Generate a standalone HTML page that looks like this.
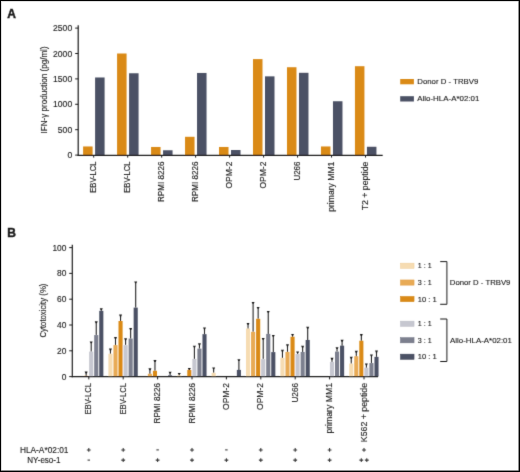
<!DOCTYPE html>
<html><head><meta charset="utf-8"><style>
html,body{margin:0;padding:0;background:#fff;}
svg{display:block;font-family:"Liberation Sans", sans-serif;will-change:transform;}
text{fill:#1a1a1a;stroke:#1a1a1a;stroke-width:0.12px;}
</style></head><body>
<svg width="520" height="472" viewBox="0 0 520 472">
<defs><filter id="sb" x="0" y="0" width="100%" height="100%" filterUnits="userSpaceOnUse"><feConvolveMatrix order="3" kernelMatrix="0.01 0.08 0.01 0.08 0.64 0.08 0.01 0.08 0.01" divisor="1" edgeMode="duplicate" preserveAlpha="false"/></filter></defs>
<rect x="0" y="0" width="520" height="472" fill="#fff"/>
<g filter="url(#sb)">
<text x="7.2" y="17.5" font-size="12" font-weight="bold" style="stroke-width:0.45px">A</text>
<text x="7.2" y="237.3" font-size="12" font-weight="bold" style="stroke-width:0.45px">B</text>
<line x1="78.2" y1="25.2" x2="78.2" y2="155.7" stroke="#1c1c1c" stroke-width="1.2"/>
<line x1="75.2" y1="155.10" x2="78.2" y2="155.10" stroke="#1c1c1c" stroke-width="1"/>
<text x="72.2" y="158.20" font-size="8.6" text-anchor="end">0</text>
<line x1="75.2" y1="129.70" x2="78.2" y2="129.70" stroke="#1c1c1c" stroke-width="1"/>
<text x="72.2" y="132.80" font-size="8.6" text-anchor="end">500</text>
<line x1="75.2" y1="104.30" x2="78.2" y2="104.30" stroke="#1c1c1c" stroke-width="1"/>
<text x="72.2" y="107.40" font-size="8.6" text-anchor="end">1000</text>
<line x1="75.2" y1="78.90" x2="78.2" y2="78.90" stroke="#1c1c1c" stroke-width="1"/>
<text x="72.2" y="82.00" font-size="8.6" text-anchor="end">1500</text>
<line x1="75.2" y1="53.50" x2="78.2" y2="53.50" stroke="#1c1c1c" stroke-width="1"/>
<text x="72.2" y="56.60" font-size="8.6" text-anchor="end">2000</text>
<line x1="75.2" y1="28.10" x2="78.2" y2="28.10" stroke="#1c1c1c" stroke-width="1"/>
<text x="72.2" y="31.20" font-size="8.6" text-anchor="end">2500</text>
<rect x="83.10" y="146.46" width="9.5" height="8.64" fill="#DA8A16"/>
<rect x="95.10" y="77.48" width="9.5" height="77.62" fill="#4B5165"/>
<line x1="93.70" y1="155.1" x2="93.70" y2="157.6" stroke="#1c1c1c" stroke-width="1"/>
<rect x="117.08" y="53.50" width="9.5" height="101.60" fill="#DA8A16"/>
<rect x="129.08" y="73.26" width="9.5" height="81.84" fill="#4B5165"/>
<line x1="127.68" y1="155.1" x2="127.68" y2="157.6" stroke="#1c1c1c" stroke-width="1"/>
<rect x="151.06" y="146.97" width="9.5" height="8.13" fill="#DA8A16"/>
<rect x="163.06" y="150.27" width="9.5" height="4.83" fill="#4B5165"/>
<line x1="161.66" y1="155.1" x2="161.66" y2="157.6" stroke="#1c1c1c" stroke-width="1"/>
<rect x="185.04" y="136.81" width="9.5" height="18.29" fill="#DA8A16"/>
<rect x="197.04" y="72.96" width="9.5" height="82.14" fill="#4B5165"/>
<line x1="195.64" y1="155.1" x2="195.64" y2="157.6" stroke="#1c1c1c" stroke-width="1"/>
<rect x="219.02" y="146.97" width="9.5" height="8.13" fill="#DA8A16"/>
<rect x="231.02" y="150.02" width="9.5" height="5.08" fill="#4B5165"/>
<line x1="229.62" y1="155.1" x2="229.62" y2="157.6" stroke="#1c1c1c" stroke-width="1"/>
<rect x="253.00" y="59.09" width="9.5" height="96.01" fill="#DA8A16"/>
<rect x="265.00" y="76.36" width="9.5" height="78.74" fill="#4B5165"/>
<line x1="263.60" y1="155.1" x2="263.60" y2="157.6" stroke="#1c1c1c" stroke-width="1"/>
<rect x="286.98" y="67.22" width="9.5" height="87.88" fill="#DA8A16"/>
<rect x="298.98" y="72.80" width="9.5" height="82.30" fill="#4B5165"/>
<line x1="297.58" y1="155.1" x2="297.58" y2="157.6" stroke="#1c1c1c" stroke-width="1"/>
<rect x="320.96" y="146.46" width="9.5" height="8.64" fill="#DA8A16"/>
<rect x="332.96" y="101.25" width="9.5" height="53.85" fill="#4B5165"/>
<line x1="331.56" y1="155.1" x2="331.56" y2="157.6" stroke="#1c1c1c" stroke-width="1"/>
<rect x="354.94" y="66.20" width="9.5" height="88.90" fill="#DA8A16"/>
<rect x="366.94" y="146.77" width="9.5" height="8.33" fill="#4B5165"/>
<line x1="365.54" y1="155.1" x2="365.54" y2="157.6" stroke="#1c1c1c" stroke-width="1"/>
<line x1="77.60000000000001" y1="155.4" x2="382.7" y2="155.4" stroke="#1c1c1c" stroke-width="1.2"/>
<text transform="translate(96.40,161.6) rotate(-90)" font-size="8.8" text-anchor="end" textLength="31.1" lengthAdjust="spacingAndGlyphs">EBV-LCL</text>
<text transform="translate(130.38,161.6) rotate(-90)" font-size="8.8" text-anchor="end" textLength="31.1" lengthAdjust="spacingAndGlyphs">EBV-LCL</text>
<text transform="translate(164.36,161.6) rotate(-90)" font-size="8.8" text-anchor="end" textLength="40.4" lengthAdjust="spacingAndGlyphs">RPMI 8226</text>
<text transform="translate(198.34,161.6) rotate(-90)" font-size="8.8" text-anchor="end" textLength="40.4" lengthAdjust="spacingAndGlyphs">RPMI 8226</text>
<text transform="translate(232.32,161.6) rotate(-90)" font-size="8.8" text-anchor="end" textLength="27" lengthAdjust="spacingAndGlyphs">OPM-2</text>
<text transform="translate(266.30,161.6) rotate(-90)" font-size="8.8" text-anchor="end" textLength="27" lengthAdjust="spacingAndGlyphs">OPM-2</text>
<text transform="translate(300.28,161.6) rotate(-90)" font-size="8.8" text-anchor="end" textLength="19" lengthAdjust="spacingAndGlyphs">U266</text>
<text transform="translate(334.26,161.6) rotate(-90)" font-size="8.8" text-anchor="end" textLength="50.2" lengthAdjust="spacingAndGlyphs">primary MM1</text>
<text transform="translate(368.24,161.6) rotate(-90)" font-size="8.8" text-anchor="end" textLength="48.7" lengthAdjust="spacingAndGlyphs">T2 + peptide</text>
<text transform="translate(47.2,89.9) rotate(-90)" font-size="9" text-anchor="middle" textLength="87" lengthAdjust="spacingAndGlyphs">IFN-γ production (pg/ml)</text>
<rect x="400.2" y="79" width="13.7" height="5.3" fill="#DA8A16"/>
<text x="417.3" y="84.3" font-size="7.8" textLength="61" lengthAdjust="spacingAndGlyphs">Donor D - TRBV9</text>
<rect x="400.2" y="96.2" width="13.7" height="5.3" fill="#4B5165"/>
<text x="417.3" y="101.3" font-size="7.8" textLength="62" lengthAdjust="spacingAndGlyphs">Allo-HLA-A*02:01</text>
<line x1="72.3" y1="244.7" x2="72.3" y2="377.20000000000005" stroke="#1c1c1c" stroke-width="1.2"/>
<line x1="69.2" y1="376.60" x2="72.3" y2="376.60" stroke="#1c1c1c" stroke-width="1"/>
<text x="66.4" y="379.60" font-size="8.4" text-anchor="end">0</text>
<line x1="69.2" y1="350.80" x2="72.3" y2="350.80" stroke="#1c1c1c" stroke-width="1"/>
<text x="66.4" y="353.80" font-size="8.4" text-anchor="end">20</text>
<line x1="69.2" y1="325.00" x2="72.3" y2="325.00" stroke="#1c1c1c" stroke-width="1"/>
<text x="66.4" y="328.00" font-size="8.4" text-anchor="end">40</text>
<line x1="69.2" y1="299.20" x2="72.3" y2="299.20" stroke="#1c1c1c" stroke-width="1"/>
<text x="66.4" y="302.20" font-size="8.4" text-anchor="end">60</text>
<line x1="69.2" y1="273.40" x2="72.3" y2="273.40" stroke="#1c1c1c" stroke-width="1"/>
<text x="66.4" y="276.40" font-size="8.4" text-anchor="end">80</text>
<line x1="69.2" y1="247.60" x2="72.3" y2="247.60" stroke="#1c1c1c" stroke-width="1"/>
<text x="66.4" y="250.60" font-size="8.4" text-anchor="end">100</text>
<rect x="84.10" y="375.83" width="4.1" height="0.77" fill="#DA8A16"/>
<line x1="86.15" y1="375.83" x2="86.15" y2="372.59" stroke="#262626" stroke-width="1.1"/>
<path d="M84.65 371.59 H87.65 L86.75 373.49 H85.55 Z" fill="#1a1a1a"/>
<rect x="89.15" y="351.57" width="4.1" height="25.03" fill="#C6C7D0"/>
<line x1="91.20" y1="351.57" x2="91.20" y2="342.40" stroke="#262626" stroke-width="1.1"/>
<path d="M89.70 341.40 H92.70 L91.80 343.30 H90.60 Z" fill="#1a1a1a"/>
<rect x="94.20" y="335.06" width="4.1" height="41.54" fill="#7B7F8E"/>
<line x1="96.25" y1="335.06" x2="96.25" y2="322.28" stroke="#262626" stroke-width="1.1"/>
<path d="M94.75 321.28 H97.75 L96.85 323.18 H95.65 Z" fill="#1a1a1a"/>
<rect x="99.25" y="310.81" width="4.1" height="65.79" fill="#4B5165"/>
<line x1="101.30" y1="310.81" x2="101.30" y2="309.25" stroke="#262626" stroke-width="1.1"/>
<path d="M99.80 308.25 H102.80 L101.90 310.15 H100.70 Z" fill="#1a1a1a"/>
<line x1="88.80" y1="376.6" x2="88.80" y2="379.4" stroke="#1c1c1c" stroke-width="1"/>
<rect x="108.40" y="353.77" width="4.1" height="22.83" fill="#F6DCB2"/>
<line x1="110.45" y1="353.77" x2="110.45" y2="349.62" stroke="#262626" stroke-width="1.1"/>
<path d="M108.95 348.62 H111.95 L111.05 350.52 H109.85 Z" fill="#1a1a1a"/>
<rect x="113.45" y="345.12" width="4.1" height="31.48" fill="#E8AA55"/>
<line x1="115.50" y1="345.12" x2="115.50" y2="338.01" stroke="#262626" stroke-width="1.1"/>
<path d="M114.00 337.01 H117.00 L116.10 338.91 H114.90 Z" fill="#1a1a1a"/>
<rect x="118.50" y="321.00" width="4.1" height="55.60" fill="#DA8A16"/>
<line x1="120.55" y1="321.00" x2="120.55" y2="315.57" stroke="#262626" stroke-width="1.1"/>
<path d="M119.05 314.57 H122.05 L121.15 316.47 H119.95 Z" fill="#1a1a1a"/>
<rect x="123.55" y="345.12" width="4.1" height="31.48" fill="#C6C7D0"/>
<line x1="125.60" y1="345.12" x2="125.60" y2="339.30" stroke="#262626" stroke-width="1.1"/>
<path d="M124.10 338.30 H127.10 L126.20 340.20 H125.00 Z" fill="#1a1a1a"/>
<rect x="128.60" y="338.55" width="4.1" height="38.05" fill="#7B7F8E"/>
<line x1="130.65" y1="338.55" x2="130.65" y2="329.11" stroke="#262626" stroke-width="1.1"/>
<path d="M129.15 328.11 H132.15 L131.25 330.01 H130.05 Z" fill="#1a1a1a"/>
<rect x="133.65" y="307.59" width="4.1" height="69.02" fill="#4B5165"/>
<line x1="135.70" y1="307.59" x2="135.70" y2="282.41" stroke="#262626" stroke-width="1.1"/>
<path d="M134.20 281.41 H137.20 L136.30 283.31 H135.10 Z" fill="#1a1a1a"/>
<line x1="123.20" y1="376.6" x2="123.20" y2="379.4" stroke="#1c1c1c" stroke-width="1"/>
<rect x="147.85" y="373.76" width="4.1" height="2.84" fill="#E8AA55"/>
<line x1="149.90" y1="373.76" x2="149.90" y2="369.23" stroke="#262626" stroke-width="1.1"/>
<path d="M148.40 368.23 H151.40 L150.50 370.13 H149.30 Z" fill="#1a1a1a"/>
<rect x="152.90" y="370.80" width="4.1" height="5.80" fill="#DA8A16"/>
<line x1="154.95" y1="370.80" x2="154.95" y2="360.98" stroke="#262626" stroke-width="1.1"/>
<path d="M153.45 359.98 H156.45 L155.55 361.88 H154.35 Z" fill="#1a1a1a"/>
<rect x="168.05" y="375.31" width="4.1" height="1.29" fill="#4B5165"/>
<line x1="170.10" y1="375.31" x2="170.10" y2="372.71" stroke="#262626" stroke-width="1.1"/>
<path d="M168.60 371.71 H171.60 L170.70 373.61 H169.50 Z" fill="#1a1a1a"/>
<line x1="157.60" y1="376.6" x2="157.60" y2="379.4" stroke="#1c1c1c" stroke-width="1"/>
<rect x="177.20" y="375.31" width="4.1" height="1.29" fill="#F6DCB2"/>
<line x1="179.25" y1="375.31" x2="179.25" y2="373.88" stroke="#262626" stroke-width="1.1"/>
<path d="M177.75 372.88 H180.75 L179.85 374.77 H178.65 Z" fill="#1a1a1a"/>
<rect x="187.30" y="370.02" width="4.1" height="6.58" fill="#DA8A16"/>
<line x1="189.35" y1="370.02" x2="189.35" y2="369.10" stroke="#262626" stroke-width="1.1"/>
<path d="M187.85 368.10 H190.85 L189.95 370.00 H188.75 Z" fill="#1a1a1a"/>
<rect x="192.35" y="358.93" width="4.1" height="17.67" fill="#C6C7D0"/>
<line x1="194.40" y1="358.93" x2="194.40" y2="346.66" stroke="#262626" stroke-width="1.1"/>
<path d="M192.90 345.66 H195.90 L195.00 347.56 H193.80 Z" fill="#1a1a1a"/>
<rect x="197.40" y="348.61" width="4.1" height="27.99" fill="#7B7F8E"/>
<line x1="199.45" y1="348.61" x2="199.45" y2="344.33" stroke="#262626" stroke-width="1.1"/>
<path d="M197.95 343.33 H200.95 L200.05 345.23 H198.85 Z" fill="#1a1a1a"/>
<rect x="202.45" y="334.16" width="4.1" height="42.44" fill="#4B5165"/>
<line x1="204.50" y1="334.16" x2="204.50" y2="328.47" stroke="#262626" stroke-width="1.1"/>
<path d="M203.00 327.47 H206.00 L205.10 329.37 H203.90 Z" fill="#1a1a1a"/>
<line x1="192.00" y1="376.6" x2="192.00" y2="379.4" stroke="#1c1c1c" stroke-width="1"/>
<rect x="211.60" y="372.86" width="4.1" height="3.74" fill="#F6DCB2"/>
<line x1="213.65" y1="372.86" x2="213.65" y2="368.46" stroke="#262626" stroke-width="1.1"/>
<path d="M212.15 367.46 H215.15 L214.25 369.36 H213.05 Z" fill="#1a1a1a"/>
<rect x="236.85" y="369.89" width="4.1" height="6.71" fill="#4B5165"/>
<line x1="238.90" y1="369.89" x2="238.90" y2="360.20" stroke="#262626" stroke-width="1.1"/>
<path d="M237.40 359.20 H240.40 L239.50 361.10 H238.30 Z" fill="#1a1a1a"/>
<line x1="226.40" y1="376.6" x2="226.40" y2="379.4" stroke="#1c1c1c" stroke-width="1"/>
<rect x="246.00" y="328.48" width="4.1" height="48.12" fill="#F6DCB2"/>
<line x1="248.05" y1="328.48" x2="248.05" y2="323.95" stroke="#262626" stroke-width="1.1"/>
<path d="M246.55 322.95 H249.55 L248.65 324.85 H247.45 Z" fill="#1a1a1a"/>
<rect x="251.05" y="331.84" width="4.1" height="44.76" fill="#E8AA55"/>
<line x1="253.10" y1="331.84" x2="253.10" y2="302.93" stroke="#262626" stroke-width="1.1"/>
<path d="M251.60 301.93 H254.60 L253.70 303.82 H252.50 Z" fill="#1a1a1a"/>
<rect x="256.10" y="318.81" width="4.1" height="57.79" fill="#DA8A16"/>
<line x1="258.15" y1="318.81" x2="258.15" y2="307.96" stroke="#262626" stroke-width="1.1"/>
<path d="M256.65 306.96 H259.65 L258.75 308.86 H257.55 Z" fill="#1a1a1a"/>
<rect x="261.15" y="359.06" width="4.1" height="17.54" fill="#C6C7D0"/>
<line x1="263.20" y1="359.06" x2="263.20" y2="338.92" stroke="#262626" stroke-width="1.1"/>
<path d="M261.70 337.92 H264.70 L263.80 339.82 H262.60 Z" fill="#1a1a1a"/>
<rect x="266.20" y="333.90" width="4.1" height="42.70" fill="#7B7F8E"/>
<line x1="268.25" y1="333.90" x2="268.25" y2="311.96" stroke="#262626" stroke-width="1.1"/>
<path d="M266.75 310.96 H269.75 L268.85 312.86 H267.65 Z" fill="#1a1a1a"/>
<rect x="271.25" y="352.09" width="4.1" height="24.51" fill="#4B5165"/>
<line x1="273.30" y1="352.09" x2="273.30" y2="335.95" stroke="#262626" stroke-width="1.1"/>
<path d="M271.80 334.95 H274.80 L273.90 336.85 H272.70 Z" fill="#1a1a1a"/>
<line x1="260.80" y1="376.6" x2="260.80" y2="379.4" stroke="#1c1c1c" stroke-width="1"/>
<rect x="280.40" y="357.90" width="4.1" height="18.71" fill="#F6DCB2"/>
<line x1="282.45" y1="357.90" x2="282.45" y2="350.78" stroke="#262626" stroke-width="1.1"/>
<path d="M280.95 349.78 H283.95 L283.05 351.68 H281.85 Z" fill="#1a1a1a"/>
<rect x="285.45" y="351.96" width="4.1" height="24.64" fill="#E8AA55"/>
<line x1="287.50" y1="351.96" x2="287.50" y2="345.37" stroke="#262626" stroke-width="1.1"/>
<path d="M286.00 344.37 H289.00 L288.10 346.27 H286.90 Z" fill="#1a1a1a"/>
<rect x="290.50" y="336.74" width="4.1" height="39.86" fill="#DA8A16"/>
<line x1="292.55" y1="336.74" x2="292.55" y2="334.92" stroke="#262626" stroke-width="1.1"/>
<path d="M291.05 333.92 H294.05 L293.15 335.82 H291.95 Z" fill="#1a1a1a"/>
<rect x="295.55" y="354.03" width="4.1" height="22.57" fill="#C6C7D0"/>
<line x1="297.60" y1="354.03" x2="297.60" y2="352.46" stroke="#262626" stroke-width="1.1"/>
<path d="M296.10 351.46 H299.10 L298.20 353.36 H297.00 Z" fill="#1a1a1a"/>
<rect x="300.60" y="351.96" width="4.1" height="24.64" fill="#7B7F8E"/>
<line x1="302.65" y1="351.96" x2="302.65" y2="346.79" stroke="#262626" stroke-width="1.1"/>
<path d="M301.15 345.79 H304.15 L303.25 347.69 H302.05 Z" fill="#1a1a1a"/>
<rect x="305.65" y="339.96" width="4.1" height="36.64" fill="#4B5165"/>
<line x1="307.70" y1="339.96" x2="307.70" y2="327.82" stroke="#262626" stroke-width="1.1"/>
<path d="M306.20 326.82 H309.20 L308.30 328.72 H307.10 Z" fill="#1a1a1a"/>
<line x1="295.20" y1="376.6" x2="295.20" y2="379.4" stroke="#1c1c1c" stroke-width="1"/>
<rect x="329.95" y="361.89" width="4.1" height="14.71" fill="#C6C7D0"/>
<line x1="332.00" y1="361.89" x2="332.00" y2="358.78" stroke="#262626" stroke-width="1.1"/>
<path d="M330.50 357.78 H333.50 L332.60 359.68 H331.40 Z" fill="#1a1a1a"/>
<rect x="335.00" y="351.57" width="4.1" height="25.03" fill="#7B7F8E"/>
<line x1="337.05" y1="351.57" x2="337.05" y2="348.20" stroke="#262626" stroke-width="1.1"/>
<path d="M335.55 347.20 H338.55 L337.65 349.10 H336.45 Z" fill="#1a1a1a"/>
<rect x="340.05" y="345.64" width="4.1" height="30.96" fill="#4B5165"/>
<line x1="342.10" y1="345.64" x2="342.10" y2="340.85" stroke="#262626" stroke-width="1.1"/>
<path d="M340.60 339.85 H343.60 L342.70 341.75 H341.50 Z" fill="#1a1a1a"/>
<line x1="329.60" y1="376.6" x2="329.60" y2="379.4" stroke="#1c1c1c" stroke-width="1"/>
<rect x="349.20" y="363.57" width="4.1" height="13.03" fill="#F6DCB2"/>
<line x1="351.25" y1="363.57" x2="351.25" y2="357.75" stroke="#262626" stroke-width="1.1"/>
<path d="M349.75 356.75 H352.75 L351.85 358.65 H350.65 Z" fill="#1a1a1a"/>
<rect x="354.25" y="356.22" width="4.1" height="20.38" fill="#E8AA55"/>
<line x1="356.30" y1="356.22" x2="356.30" y2="351.82" stroke="#262626" stroke-width="1.1"/>
<path d="M354.80 350.82 H357.80 L356.90 352.72 H355.70 Z" fill="#1a1a1a"/>
<rect x="359.30" y="340.74" width="4.1" height="35.86" fill="#DA8A16"/>
<line x1="361.35" y1="340.74" x2="361.35" y2="335.05" stroke="#262626" stroke-width="1.1"/>
<path d="M359.85 334.05 H362.85 L361.95 335.95 H360.75 Z" fill="#1a1a1a"/>
<rect x="364.35" y="367.70" width="4.1" height="8.90" fill="#C6C7D0"/>
<line x1="366.40" y1="367.70" x2="366.40" y2="364.46" stroke="#262626" stroke-width="1.1"/>
<path d="M364.90 363.46 H367.90 L367.00 365.36 H365.80 Z" fill="#1a1a1a"/>
<rect x="369.40" y="363.06" width="4.1" height="13.54" fill="#7B7F8E"/>
<line x1="371.45" y1="363.06" x2="371.45" y2="355.43" stroke="#262626" stroke-width="1.1"/>
<path d="M369.95 354.43 H372.95 L372.05 356.33 H370.85 Z" fill="#1a1a1a"/>
<rect x="374.45" y="356.86" width="4.1" height="19.74" fill="#4B5165"/>
<line x1="376.50" y1="356.86" x2="376.50" y2="351.56" stroke="#262626" stroke-width="1.1"/>
<path d="M375.00 350.56 H378.00 L377.10 352.46 H375.90 Z" fill="#1a1a1a"/>
<line x1="364.00" y1="376.6" x2="364.00" y2="379.4" stroke="#1c1c1c" stroke-width="1"/>
<line x1="71.7" y1="376.6" x2="378" y2="376.6" stroke="#1c1c1c" stroke-width="1.2"/>
<text transform="translate(91.40,383.0) rotate(-90)" font-size="8.8" text-anchor="end" textLength="31.6" lengthAdjust="spacingAndGlyphs">EBV-LCL</text>
<text transform="translate(125.80,383.0) rotate(-90)" font-size="8.8" text-anchor="end" textLength="31.6" lengthAdjust="spacingAndGlyphs">EBV-LCL</text>
<text transform="translate(160.20,383.0) rotate(-90)" font-size="8.8" text-anchor="end" textLength="40.4" lengthAdjust="spacingAndGlyphs">RPMI 8226</text>
<text transform="translate(194.60,383.0) rotate(-90)" font-size="8.8" text-anchor="end" textLength="40.4" lengthAdjust="spacingAndGlyphs">RPMI 8226</text>
<text transform="translate(229.00,383.0) rotate(-90)" font-size="8.8" text-anchor="end" textLength="27" lengthAdjust="spacingAndGlyphs">OPM-2</text>
<text transform="translate(263.40,383.0) rotate(-90)" font-size="8.8" text-anchor="end" textLength="27" lengthAdjust="spacingAndGlyphs">OPM-2</text>
<text transform="translate(297.80,383.0) rotate(-90)" font-size="8.8" text-anchor="end" textLength="19.6" lengthAdjust="spacingAndGlyphs">U266</text>
<text transform="translate(332.20,383.0) rotate(-90)" font-size="8.8" text-anchor="end" textLength="50.6" lengthAdjust="spacingAndGlyphs">primary MM1</text>
<text transform="translate(366.60,383.0) rotate(-90)" font-size="8.8" text-anchor="end" textLength="59.2" lengthAdjust="spacingAndGlyphs">K562 + peptide</text>
<text transform="translate(46.3,310.6) rotate(-90)" font-size="9" text-anchor="middle" textLength="54" lengthAdjust="spacingAndGlyphs">Cytotoxicity (%)</text>
<rect x="400.45" y="263.15" width="13.6" height="5.2" fill="#F6DCB2" stroke="#EFCC98" stroke-width="0.5"/>
<text x="417.8" y="268.40" font-size="7.6" textLength="13.8" lengthAdjust="spacingAndGlyphs">1 : 1</text>
<rect x="400.45" y="279.95" width="13.6" height="5.2" fill="#E8AA55" stroke="#E09D44" stroke-width="0.5"/>
<text x="417.8" y="285.20" font-size="7.6" textLength="13.8" lengthAdjust="spacingAndGlyphs">3 : 1</text>
<rect x="400.45" y="296.45" width="13.6" height="5.2" fill="#DA8A16" stroke="#D08012" stroke-width="0.5"/>
<text x="417.8" y="301.70" font-size="7.6" textLength="19" lengthAdjust="spacingAndGlyphs">10 : 1</text>
<rect x="400.45" y="321.15" width="13.6" height="5.2" fill="#C6C7D0" stroke="#B9BBC5" stroke-width="0.5"/>
<text x="417.8" y="326.40" font-size="7.6" textLength="13.8" lengthAdjust="spacingAndGlyphs">1 : 1</text>
<rect x="400.45" y="337.65" width="13.6" height="5.2" fill="#7B7F8E" stroke="#6D7181" stroke-width="0.5"/>
<text x="417.8" y="342.90" font-size="7.6" textLength="13.8" lengthAdjust="spacingAndGlyphs">3 : 1</text>
<rect x="400.45" y="354.15" width="13.6" height="5.2" fill="#4B5165" stroke="#3C4255" stroke-width="0.5"/>
<text x="417.8" y="359.40" font-size="7.6" textLength="19" lengthAdjust="spacingAndGlyphs">10 : 1</text>
<path d="M440.2 261.6 H446.9 V304.3 H440.2" fill="none" stroke="#1c1c1c" stroke-width="1"/>
<path d="M440.2 319.0 H446.9 V361.5 H440.2" fill="none" stroke="#1c1c1c" stroke-width="1"/>
<text x="449.8" y="285.3" font-size="7.6" textLength="60.6" lengthAdjust="spacingAndGlyphs">Donor D - TRBV9</text>
<text x="450.1" y="343.0" font-size="7.6" textLength="61.8" lengthAdjust="spacingAndGlyphs">Allo-HLA-A*02:01</text>
<text x="44.2" y="452.5" font-size="8.2" text-anchor="middle" textLength="48.6" lengthAdjust="spacingAndGlyphs">HLA-A*02:01</text>
<text x="43.9" y="462.8" font-size="8.2" text-anchor="middle" textLength="33.2" lengthAdjust="spacingAndGlyphs">NY-eso-1</text>
<path d="M86.90 449.9 H90.70 M88.8 448.00 V451.80" stroke="#333" stroke-width="1.05" fill="none"/>
<path d="M87.55 460.1 H90.05" stroke="#333" stroke-width="1.05" fill="none"/>
<path d="M121.30 449.9 H125.10 M123.19999999999999 448.00 V451.80" stroke="#333" stroke-width="1.05" fill="none"/>
<path d="M121.30 460.1 H125.10 M123.19999999999999 458.20 V462.00" stroke="#333" stroke-width="1.05" fill="none"/>
<path d="M156.35 449.9 H158.85" stroke="#333" stroke-width="1.05" fill="none"/>
<path d="M155.70 460.1 H159.50 M157.6 458.20 V462.00" stroke="#333" stroke-width="1.05" fill="none"/>
<path d="M190.10 449.9 H193.90 M192.0 448.00 V451.80" stroke="#333" stroke-width="1.05" fill="none"/>
<path d="M190.10 460.1 H193.90 M192.0 458.20 V462.00" stroke="#333" stroke-width="1.05" fill="none"/>
<path d="M225.15 449.9 H227.65" stroke="#333" stroke-width="1.05" fill="none"/>
<path d="M224.50 460.1 H228.30 M226.39999999999998 458.20 V462.00" stroke="#333" stroke-width="1.05" fill="none"/>
<path d="M258.90 449.9 H262.70 M260.8 448.00 V451.80" stroke="#333" stroke-width="1.05" fill="none"/>
<path d="M258.90 460.1 H262.70 M260.8 458.20 V462.00" stroke="#333" stroke-width="1.05" fill="none"/>
<path d="M293.30 449.9 H297.10 M295.2 448.00 V451.80" stroke="#333" stroke-width="1.05" fill="none"/>
<path d="M293.30 460.1 H297.10 M295.2 458.20 V462.00" stroke="#333" stroke-width="1.05" fill="none"/>
<path d="M327.70 449.9 H331.50 M329.59999999999997 448.00 V451.80" stroke="#333" stroke-width="1.05" fill="none"/>
<path d="M327.70 460.1 H331.50 M329.59999999999997 458.20 V462.00" stroke="#333" stroke-width="1.05" fill="none"/>
<path d="M362.10 449.9 H365.90 M364.0 448.00 V451.80" stroke="#333" stroke-width="1.05" fill="none"/>
<path d="M359.40 460.1 H363.20 M361.3 458.20 V462.00" stroke="#333" stroke-width="1.05" fill="none"/>
<path d="M364.90 460.1 H368.70 M366.8 458.20 V462.00" stroke="#333" stroke-width="1.05" fill="none"/>
</g>
<rect x="0.5" y="0.5" width="519" height="471" fill="none" stroke="#000" stroke-width="1"/>
<rect x="1.5" y="1.5" width="517" height="469" fill="none" stroke="#000" stroke-opacity="0.12" stroke-width="1"/>
<line x1="518.5" y1="1" x2="518.5" y2="471" stroke="#000" stroke-opacity="0.35"/>
<line x1="1" y1="470.5" x2="519" y2="470.5" stroke="#000" stroke-opacity="0.35"/>
</svg>
</body></html>
